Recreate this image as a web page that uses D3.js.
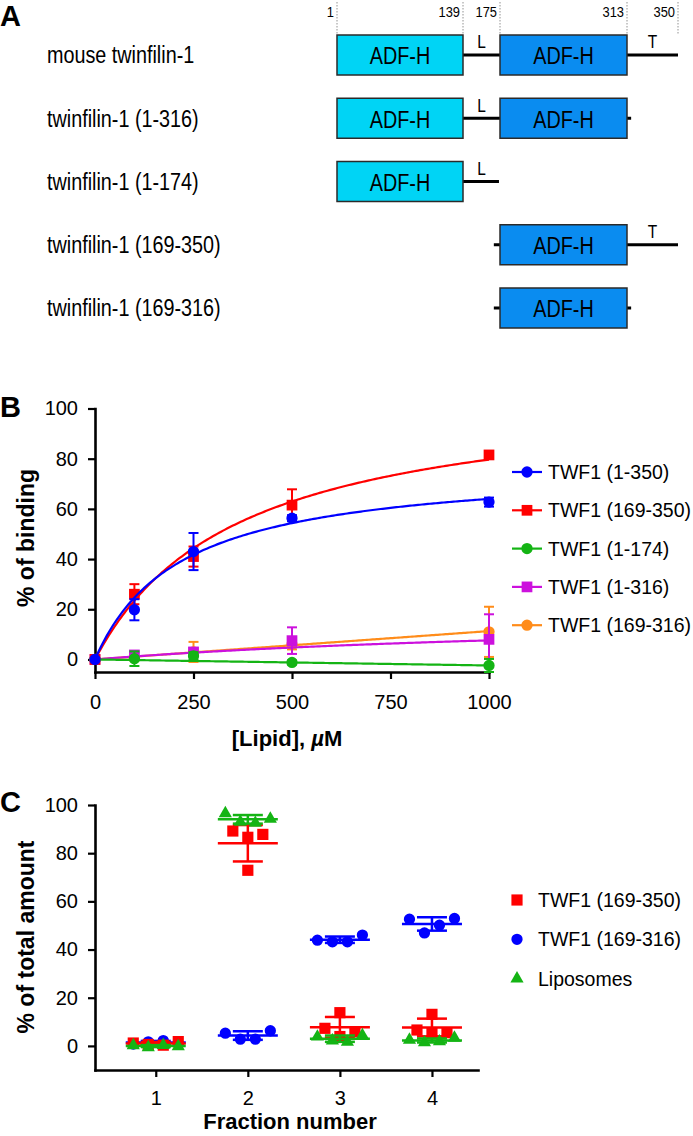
<!DOCTYPE html>
<html>
<head>
<meta charset="utf-8">
<script src="https://cdn.jsdelivr.net/npm/d3@7"></script>
<style>
body { margin: 0; background: #fff; }
svg { font-family: "Liberation Sans", Arial, Helvetica, sans-serif; }
</style>
</head>
<body>
<svg id="fig" width="693" height="1136"></svg>
<script>
// ---- panel A : constructs
var constructs = ["mouse twinfilin-1", "twinfilin-1 (1-316)", "twinfilin-1 (1-174)", "twinfilin-1 (169-350)", "twinfilin-1 (169-316)"];
var constructStart = [1, 1, 1, 169, 169];
var constructEnd = [350, 316, 174, 350, 316];
var domainStart = [1, 175];
var domainEnd = [139, 313];
var domainColor = ["#00d4f5", "#0a8cf0"];
var segLabels = ["L", "T"];
var segStart = [139, 313];
var segEnd = [175, 350];
var residueMarks = [1, 139, 175, 313, 350];

// ---- panel B : lipid binding
var lipid = [0, 100, 250, 500, 1000];
var seriesB = ["TWF1 (1-350)", "TWF1 (169-350)", "TWF1 (1-174)", "TWF1 (1-316)", "TWF1 (169-316)"];
var colorB = ["#0000ff", "#ff0000", "#14b414", "#cc11dd", "#ff8c1a"];
var shapeB = ["circle", "square", "circle", "square", "circle"];
var twf1_350 = [0, 19.8, 43, 56.3, 62.7];
var twf1_350_sd = [0.5, 4.2, 7.4, 1.2, 1.8];
var twf169_350 = [0, 26, 41, 61.5, 81.5];
var twf169_350_sd = [0.5, 4, 4, 6.3, 1];
var twf1_174 = [0, 0.3, 1.4, -1.2, -2.4];
var twf1_174_sd = [0.5, 2.9, 1.5, 0.8, 2.6];
var twf1_316 = [0, 1.8, 3, 7.5, 8];
var twf1_316_sd = [0.5, 1, 1.5, 5.3, 10];
var twf169_316 = [0, 0.6, 3, 6, 11];
var twf169_316_sd = [0.5, 1, 4, 2, 10];
// fitted curves: "hyper" = a*x/(k+x), "line" = a*x
var fitModel = ["hyper", "hyper", "line", "hyper", "line"];
var fitA = [77.8, 108.5, -0.0024, 19, 0.0113];
var fitK = [216, 362, 0, 1500, 0];

// ---- panel C : flotation fractions
var fractions = [1, 2, 3, 4];
var seriesC = ["TWF1 (169-350)", "TWF1 (169-316)", "Liposomes"];
var colorC = ["#ff0000", "#0000ff", "#14b414"];
var shapeC = ["square", "circle", "triangle"];
var c169_350 = [[1.2, 0.6, 0.3, 1.8], [89.2, 86.6, 87.8, 72.9], [7.3, 13.8, 3.9, 5.9], [6.6, 5.4, 13.1, 5.5]];
var c169_316 = [[0.8, 1.7, 2.2, 0.9], [5.3, 2.8, 2.8, 6.3], [43.9, 43.2, 43.2, 46], [52.6, 46.9, 50.1, 52.9]];
var cLipo = [[0.2, -0.6, 0.3, -0.2], [96.5, 93, 92.5, 94.2], [3.8, 2.2, 1.6, 4.4], [2.5, 1.4, 1.8, 3.3]];

var svg = d3.select("#fig");
var narrow = 0.86; // panel A text is a condensed face

function sym(shape, size) {
	var t = shape == "square" ? d3.symbolSquare : shape == "triangle" ? d3.symbolTriangle : d3.symbolCircle;
	return d3.symbol().type(t).size(size)();
}

function panelLetter(txt, y) {
	svg.append("text").attr("x", 0).attr("y", y)
		.style("font-size", "29px").style("font-weight", "bold").text(txt);
}

// condensed text, x is the anchor point in page coords
function condText(g, x, y, txt, size, anchor) {
	return g.append("text")
		.attr("transform", "translate(" + x + "," + y + ") scale(" + narrow + ",1)")
		.attr("dy", "0.36em")
		.attr("text-anchor", anchor || "start")
		.style("font-size", size + "px")
		.text(txt);
}

// ================= A =================
panelLetter("A", 26);
var rx = d3.scaleLinear().domain(residueMarks).range([337, 463, 500, 627, 678]);
var ry = d3.scalePoint().domain(constructs).range([55, 308]);
var boxH = 40;

var gA = svg.append("g");
residueMarks.forEach(function (r) {
	gA.append("line")
		.attr("x1", rx(r)).attr("x2", rx(r))
		.attr("y1", 2).attr("y2", ry(constructs[0]) - boxH / 2)
		.attr("stroke", "#777").attr("stroke-width", 0.8).attr("stroke-dasharray", "1.5,1.5");
	gA.append("text")
		.attr("transform", "translate(" + (rx(r) - 3) + ",17) scale(" + narrow + ",1)")
		.attr("text-anchor", "end").style("font-size", "15px")
		.text(r);
});

constructs.forEach(function (c, i) {
	var y = ry(c);
	condText(gA, 47, y, c, 23);
	gA.append("line")
		.attr("x1", rx(constructStart[i])).attr("x2", rx(constructEnd[i]))
		.attr("y1", y).attr("y2", y)
		.attr("stroke", "#000").attr("stroke-width", 3);
	domainStart.forEach(function (s, j) {
		if (s < constructStart[i] || domainEnd[j] > constructEnd[i]) return;
		gA.append("rect")
			.attr("x", rx(s)).attr("y", y - boxH / 2)
			.attr("width", rx(domainEnd[j]) - rx(s)).attr("height", boxH)
			.attr("fill", domainColor[j]).attr("stroke", "#2a2a2a").attr("stroke-width", 1.5);
		condText(gA, (rx(s) + rx(domainEnd[j])) / 2, y + 1, "ADF-H", 23, "middle");
	});
	segLabels.forEach(function (l, j) {
		if (segStart[j] + 1 < constructStart[i] || segEnd[j] - 1 > constructEnd[i]) return;
		condText(gA, (rx(segStart[j]) + rx(segEnd[j])) / 2, y - 13, l, 18, "middle");
	});
});

// ================= B =================
panelLetter("B", 417);
var bx = d3.scaleLinear().domain([0, 1000]).range([95, 489]);
var by = d3.scaleLinear().domain([-5, 100]).range([672, 408.5]);

function styleAxis(g) {
	g.select(".domain").attr("stroke-width", 2.6).attr("stroke-linecap", "square");
	g.selectAll(".tick line").attr("stroke-width", 2.2);
	g.selectAll(".tick text").style("font-size", "20px").style("font-family", "Liberation Sans, Arial, sans-serif").attr("fill", "#000");
}

var gB = svg.append("g");
gB.append("g").attr("transform", "translate(95,0)")
	.call(d3.axisLeft(by).tickValues([0, 20, 40, 60, 80, 100]).tickSize(7).tickPadding(10).tickSizeOuter(0))
	.call(styleAxis);
gB.append("g").attr("transform", "translate(0,672)")
	.call(d3.axisBottom(bx).tickValues([0, 250, 500, 750, 1000]).tickFormat(d3.format("d")).tickSize(7).tickPadding(16).tickSizeOuter(0))
	.call(styleAxis);

gB.append("text").attr("transform", "translate(34,538) rotate(-90)")
	.attr("text-anchor", "middle").style("font-size", "23px").style("font-weight", "bold")
	.text("% of binding");
var xt = gB.append("text").attr("x", 287).attr("y", 746).attr("text-anchor", "middle")
	.style("font-size", "22px").style("font-weight", "bold");
xt.append("tspan").text("[Lipid], ");
xt.append("tspan").style("font-style", "italic").text("\u00b5");
xt.append("tspan").text("M");

var valsB = [twf1_350, twf169_350, twf1_174, twf1_316, twf169_316];
var sdB = [twf1_350_sd, twf169_350_sd, twf1_174_sd, twf1_316_sd, twf169_316_sd];
var drawOrder = [4, 3, 2, 1, 0];
var curveX = d3.range(0, 1001, 5);

drawOrder.forEach(function (s) {
	var g = gB.append("g");
	var f = function (x) { return fitModel[s] == "hyper" ? fitA[s] * x / (fitK[s] + x) : fitA[s] * x; };
	g.append("path")
		.attr("d", d3.line().x(function (x) { return bx(x); }).y(function (x) { return by(f(x)); })(curveX))
		.attr("fill", "none").attr("stroke", colorB[s]).attr("stroke-width", 2.2);
	lipid.forEach(function (x, i) {
		var v = valsB[s][i], e = sdB[s][i];
		var eg = g.append("g").attr("stroke", colorB[s]).attr("stroke-width", 2);
		eg.append("line").attr("x1", bx(x)).attr("x2", bx(x)).attr("y1", by(v - e)).attr("y2", by(v + e));
		eg.append("line").attr("x1", bx(x) - 5).attr("x2", bx(x) + 5).attr("y1", by(v - e)).attr("y2", by(v - e));
		eg.append("line").attr("x1", bx(x) - 5).attr("x2", bx(x) + 5).attr("y1", by(v + e)).attr("y2", by(v + e));
		g.append("path").attr("d", sym(shapeB[s], shapeB[s] == "square" ? 115 : 100))
			.attr("transform", "translate(" + bx(x) + "," + by(v) + ")")
			.attr("fill", colorB[s]);
	});
});

// legend B
seriesB.forEach(function (name, i) {
	var y = 472 + i * 38.3;
	var g = gB.append("g");
	g.append("line").attr("x1", 512).attr("x2", 542).attr("y1", y).attr("y2", y)
		.attr("stroke", colorB[i]).attr("stroke-width", 2.2);
	g.append("path").attr("d", sym(shapeB[i], shapeB[i] == "square" ? 115 : 100))
		.attr("transform", "translate(527," + y + ")").attr("fill", colorB[i]);
	g.append("text").attr("x", 548).attr("y", y).attr("dy", "0.36em")
		.style("font-size", "19.5px").text(name);
});

// ================= C =================
panelLetter("C", 812);
var cx = d3.scaleLinear().domain([0.34, 4.5]).range([95, 478]);
var cy = d3.scaleLinear().domain([-10, 100]).range([1070, 805]);

var gC = svg.append("g");
gC.append("g").attr("transform", "translate(95,0)")
	.call(d3.axisLeft(cy).tickValues([0, 20, 40, 60, 80, 100]).tickSize(7).tickPadding(10).tickSizeOuter(0))
	.call(styleAxis);
gC.append("g").attr("transform", "translate(0,1070)")
	.call(d3.axisBottom(cx).tickValues(fractions).tickFormat(d3.format("d")).tickSize(7).tickPadding(14).tickSizeOuter(0))
	.call(styleAxis);

gC.append("text").attr("transform", "translate(34,937) rotate(-90)")
	.attr("text-anchor", "middle").style("font-size", "23px").style("font-weight", "bold")
	.text("% of total amount");
gC.append("text").attr("x", 290).attr("y", 1129).attr("text-anchor", "middle")
	.style("font-size", "22px").style("font-weight", "bold").text("Fraction number");

// spread overlapping replicate points sideways
function dodge(vals) {
	var idx = vals.map(function (v, i) { return i; }).sort(function (a, b) { return vals[a] - vals[b]; });
	var groups = [], cur = [idx[0]];
	for (var k = 1; k < idx.length; k++) {
		if (Math.abs(cy(vals[idx[k]]) - cy(vals[idx[k - 1]])) < 11) cur.push(idx[k]);
		else { groups.push(cur); cur = [idx[k]]; }
	}
	groups.push(cur);
	var off = [];
	groups.forEach(function (g) {
		g.sort(function (a, b) { return a - b; });
		g.forEach(function (i, j) { off[i] = (j - (g.length - 1) / 2) * 15; });
	});
	return off;
}

var valsC = [c169_350, c169_316, cLipo];
[1, 0, 2].forEach(function (s) {
	var g = gC.append("g");
	fractions.forEach(function (fr, i) {
		var vals = valsC[s][i];
		var off = dodge(vals);
		vals.forEach(function (v, k) {
			g.append("path").attr("d", sym(shapeC[s], shapeC[s] == "square" ? 125 : shapeC[s] == "triangle" ? 75 : 100))
				.attr("transform", "translate(" + (cx(fr) + off[k]) + "," + cy(v) + ")")
				.attr("fill", colorC[s]);
		});
		var m = d3.mean(vals), sd = d3.deviation(vals);
		var lg = g.append("g").attr("stroke", colorC[s]).attr("stroke-width", 2.5);
		lg.append("line").attr("x1", cx(fr) - 30).attr("x2", cx(fr) + 30).attr("y1", cy(m)).attr("y2", cy(m));
		lg.append("line").attr("x1", cx(fr)).attr("x2", cx(fr)).attr("y1", cy(m - sd)).attr("y2", cy(m + sd));
		lg.append("line").attr("x1", cx(fr) - 15).attr("x2", cx(fr) + 15).attr("y1", cy(m - sd)).attr("y2", cy(m - sd));
		lg.append("line").attr("x1", cx(fr) - 15).attr("x2", cx(fr) + 15).attr("y1", cy(m + sd)).attr("y2", cy(m + sd));
	});
});

// legend C
seriesC.forEach(function (name, i) {
	var y = 900 + i * 39.3;
	gC.append("path").attr("d", sym(shapeC[i], shapeC[i] == "square" ? 125 : shapeC[i] == "triangle" ? 75 : 100))
		.attr("transform", "translate(517," + y + ")").attr("fill", colorC[i]);
	gC.append("text").attr("x", 538).attr("y", y).attr("dy", "0.36em")
		.style("font-size", "19.5px").text(name);
});
</script>
</body>
</html>
